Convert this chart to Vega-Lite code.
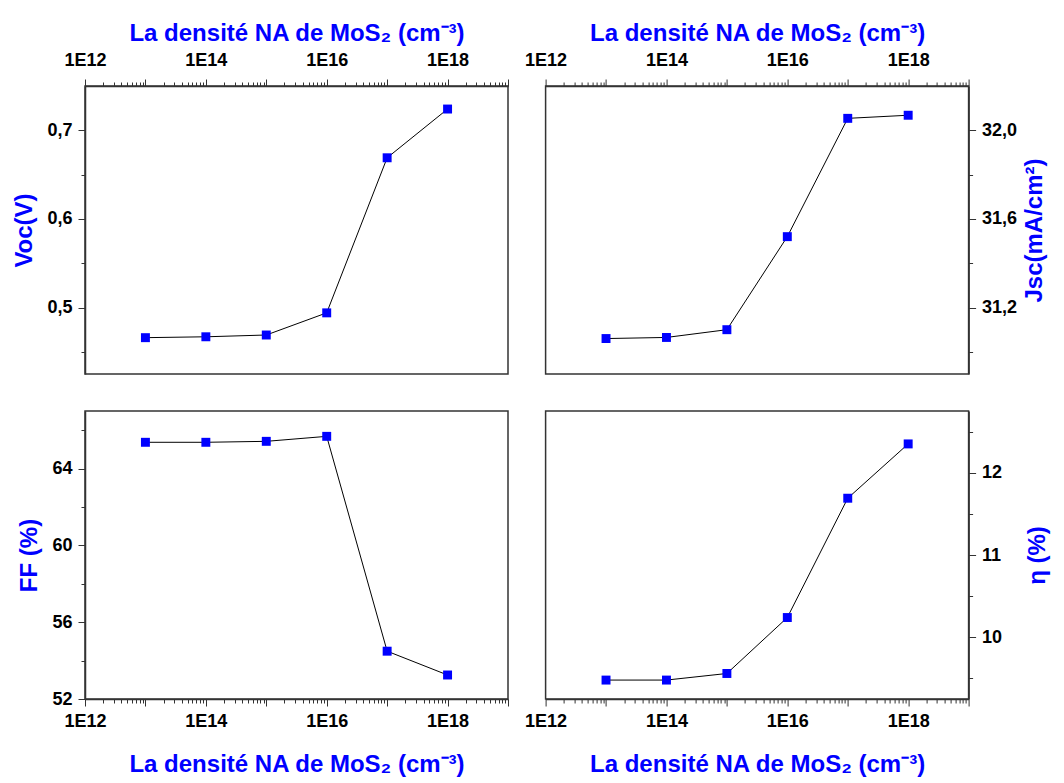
{
  "$schema": "https://vega.github.io/schema/vega-lite/v6.json",
  "background": "white",
  "padding": {"left": 12, "top": 20, "right": 5, "bottom": 5},
  "datasets": {
    "d": [
      {"NA": 1e13, "Voc": 0.466, "Jsc": 31.060, "FF": 65.37, "eta": 9.48},
      {"NA": 1e14, "Voc": 0.467, "Jsc": 31.065, "FF": 65.37, "eta": 9.48},
      {"NA": 1e15, "Voc": 0.469, "Jsc": 31.100, "FF": 65.42, "eta": 9.56},
      {"NA": 1e16, "Voc": 0.494, "Jsc": 31.520, "FF": 65.68, "eta": 10.24},
      {"NA": 1e17, "Voc": 0.669, "Jsc": 32.054, "FF": 54.49, "eta": 11.69},
      {"NA": 1e18, "Voc": 0.724, "Jsc": 32.068, "FF": 53.25, "eta": 12.35}
    ]
  },
  "columns": 2,
  "spacing": {"row": 37, "column": 37.6},
  "bounds": "flush",
  "concat": [
    {
      "width": 423, "height": 288,
      "data": {"name": "d"},
      "encoding": {
        "x": {"field": "NA", "type": "quantitative",
          "scale": {"type": "log", "domain": [1e12, 1e19], "nice": false},
          "axis": {"orient": "top", "title": "La densité NA de MoS₂ (cm⁻³)",
            "values": [1e12,2e12,3e12,4e12,5e12,6e12,7e12,8e12,9e12,1e13,2e13,3e13,4e13,5e13,6e13,7e13,8e13,9e13,1e14,2e14,3e14,4e14,5e14,6e14,7e14,8e14,9e14,1e15,2e15,3e15,4e15,5e15,6e15,7e15,8e15,9e15,1e16,2e16,3e16,4e16,5e16,6e16,7e16,8e16,9e16,1e17,2e17,3e17,4e17,5e17,6e17,7e17,8e17,9e17,1e18,2e18,3e18,4e18,5e18,6e18,7e18,8e18,9e18,1e19],
            "labelExpr": "abs(log(datum.value)/LN10 - round(log(datum.value)/LN10)) < 0.001 && round(log(datum.value)/LN10) % 2 == 0 ? '1E' + round(log(datum.value)/LN10) : ''",
            "tickSize": {"condition": {"test": "abs(log(datum.value)/LN10 - round(log(datum.value)/LN10)) < 0.001", "value": 7}, "value": 4},
            "labelPadding": 10, "titlePadding": 6}},
        "y": {"field": "Voc", "type": "quantitative",
          "scale": {"domain": [0.425, 0.75], "nice": false, "zero": false},
          "axis": {"orient": "left", "title": "Voc(V)",
            "values": [0.45, 0.5, 0.55, 0.6, 0.65, 0.7],
            "labelExpr": "abs(datum.value*10 - round(datum.value*10)) < 0.001 ? replace(format(datum.value, '.1f'), '.', ',') : ''",
            "tickSize": {"condition": {"test": "abs(datum.value*10 - round(datum.value*10)) < 0.001", "value": 7}, "value": 4},
            "labelPadding": 6, "titlePadding": 10}}
      },
      "layer": [
        {"mark": {"type": "line", "color": "black", "strokeWidth": 1}},
        {"mark": {"type": "point", "shape": "square", "filled": true, "color": "#0000FF", "size": 80, "opacity": 1}}
      ]
    },
    {
      "width": 423, "height": 288,
      "data": {"name": "d"},
      "encoding": {
        "x": {"field": "NA", "type": "quantitative",
          "scale": {"type": "log", "domain": [1e12, 1e19], "nice": false},
          "axis": {"orient": "top", "title": "La densité NA de MoS₂ (cm⁻³)",
            "values": [1e12,2e12,3e12,4e12,5e12,6e12,7e12,8e12,9e12,1e13,2e13,3e13,4e13,5e13,6e13,7e13,8e13,9e13,1e14,2e14,3e14,4e14,5e14,6e14,7e14,8e14,9e14,1e15,2e15,3e15,4e15,5e15,6e15,7e15,8e15,9e15,1e16,2e16,3e16,4e16,5e16,6e16,7e16,8e16,9e16,1e17,2e17,3e17,4e17,5e17,6e17,7e17,8e17,9e17,1e18,2e18,3e18,4e18,5e18,6e18,7e18,8e18,9e18,1e19],
            "labelExpr": "abs(log(datum.value)/LN10 - round(log(datum.value)/LN10)) < 0.001 && round(log(datum.value)/LN10) % 2 == 0 ? '1E' + round(log(datum.value)/LN10) : ''",
            "tickSize": {"condition": {"test": "abs(log(datum.value)/LN10 - round(log(datum.value)/LN10)) < 0.001", "value": 7}, "value": 4},
            "labelPadding": 10, "titlePadding": 6}},
        "y": {"field": "Jsc", "type": "quantitative",
          "scale": {"domain": [30.9, 32.2], "nice": false, "zero": false},
          "axis": {"orient": "right", "title": "Jsc(mA/cm²)", "titleAngle": 270, "titleBaseline": "top",
            "values": [31.0, 31.2, 31.4, 31.6, 31.8, 32.0],
            "labelExpr": "abs((datum.value-31.2)/0.4 - round((datum.value-31.2)/0.4)) < 0.001 ? replace(format(datum.value, '.1f'), '.', ',') : ''",
            "tickSize": {"condition": {"test": "abs((datum.value-31.2)/0.4 - round((datum.value-31.2)/0.4)) < 0.001", "value": 7}, "value": 4},
            "labelPadding": 6, "titlePadding": 6}}
      },
      "layer": [
        {"mark": {"type": "line", "color": "black", "strokeWidth": 1}},
        {"mark": {"type": "point", "shape": "square", "filled": true, "color": "#0000FF", "size": 80, "opacity": 1}}
      ]
    },
    {
      "width": 423, "height": 288,
      "data": {"name": "d"},
      "encoding": {
        "x": {"field": "NA", "type": "quantitative",
          "scale": {"type": "log", "domain": [1e12, 1e19], "nice": false},
          "axis": {"orient": "bottom", "title": "La densité NA de MoS₂ (cm⁻³)",
            "values": [1e12,2e12,3e12,4e12,5e12,6e12,7e12,8e12,9e12,1e13,2e13,3e13,4e13,5e13,6e13,7e13,8e13,9e13,1e14,2e14,3e14,4e14,5e14,6e14,7e14,8e14,9e14,1e15,2e15,3e15,4e15,5e15,6e15,7e15,8e15,9e15,1e16,2e16,3e16,4e16,5e16,6e16,7e16,8e16,9e16,1e17,2e17,3e17,4e17,5e17,6e17,7e17,8e17,9e17,1e18,2e18,3e18,4e18,5e18,6e18,7e18,8e18,9e18,1e19],
            "labelExpr": "abs(log(datum.value)/LN10 - round(log(datum.value)/LN10)) < 0.001 && round(log(datum.value)/LN10) % 2 == 0 ? '1E' + round(log(datum.value)/LN10) : ''",
            "tickSize": {"condition": {"test": "abs(log(datum.value)/LN10 - round(log(datum.value)/LN10)) < 0.001", "value": 7}, "value": 4},
            "labelPadding": 6, "titlePadding": 22}},
        "y": {"field": "FF", "type": "quantitative",
          "scale": {"domain": [52, 67], "nice": false, "zero": false},
          "axis": {"orient": "left", "title": "FF (%)",
            "values": [52, 54, 56, 58, 60, 62, 64, 66],
            "labelExpr": "datum.value % 4 == 0 ? format(datum.value, 'd') : ''",
            "tickSize": {"condition": {"test": "datum.value % 4 == 0", "value": 7}, "value": 4},
            "labelPadding": 6, "titlePadding": 10}}
      },
      "layer": [
        {"mark": {"type": "line", "color": "black", "strokeWidth": 1}},
        {"mark": {"type": "point", "shape": "square", "filled": true, "color": "#0000FF", "size": 80, "opacity": 1}}
      ]
    },
    {
      "width": 423, "height": 288,
      "data": {"name": "d"},
      "encoding": {
        "x": {"field": "NA", "type": "quantitative",
          "scale": {"type": "log", "domain": [1e12, 1e19], "nice": false},
          "axis": {"orient": "bottom", "title": "La densité NA de MoS₂ (cm⁻³)",
            "values": [1e12,2e12,3e12,4e12,5e12,6e12,7e12,8e12,9e12,1e13,2e13,3e13,4e13,5e13,6e13,7e13,8e13,9e13,1e14,2e14,3e14,4e14,5e14,6e14,7e14,8e14,9e14,1e15,2e15,3e15,4e15,5e15,6e15,7e15,8e15,9e15,1e16,2e16,3e16,4e16,5e16,6e16,7e16,8e16,9e16,1e17,2e17,3e17,4e17,5e17,6e17,7e17,8e17,9e17,1e18,2e18,3e18,4e18,5e18,6e18,7e18,8e18,9e18,1e19],
            "labelExpr": "abs(log(datum.value)/LN10 - round(log(datum.value)/LN10)) < 0.001 && round(log(datum.value)/LN10) % 2 == 0 ? '1E' + round(log(datum.value)/LN10) : ''",
            "tickSize": {"condition": {"test": "abs(log(datum.value)/LN10 - round(log(datum.value)/LN10)) < 0.001", "value": 7}, "value": 4},
            "labelPadding": 6, "titlePadding": 22}},
        "y": {"field": "eta", "type": "quantitative",
          "scale": {"domain": [9.25, 12.75], "nice": false, "zero": false},
          "axis": {"orient": "right", "title": "η (%)", "titleAngle": 270, "titleBaseline": "top",
            "values": [9.5, 10, 10.5, 11, 11.5, 12, 12.5],
            "labelExpr": "datum.value % 1 == 0 ? format(datum.value, 'd') : ''",
            "tickSize": {"condition": {"test": "datum.value % 1 == 0", "value": 7}, "value": 4},
            "labelPadding": 6, "titlePadding": 24}}
      },
      "layer": [
        {"mark": {"type": "line", "color": "black", "strokeWidth": 1}},
        {"mark": {"type": "point", "shape": "square", "filled": true, "color": "#0000FF", "size": 80, "opacity": 1}}
      ]
    }
  ],
  "config": {
    "view": {"stroke": "#333333", "strokeWidth": 1.5},
    "axis": {
      "grid": false,
      "labelFont": "Liberation Sans", "labelFontWeight": "bold", "labelFontSize": 18, "labelColor": "black",
      "labelOverlap": false, "labelFlush": false, "labelBound": false,
      "titleFont": "Liberation Sans", "titleFontWeight": "bold", "titleFontSize": 24, "titleColor": "#0000FF",
      "domainColor": "#333333", "domainWidth": 1.5, "tickColor": "#333333", "tickWidth": 1
    }
  }
}
